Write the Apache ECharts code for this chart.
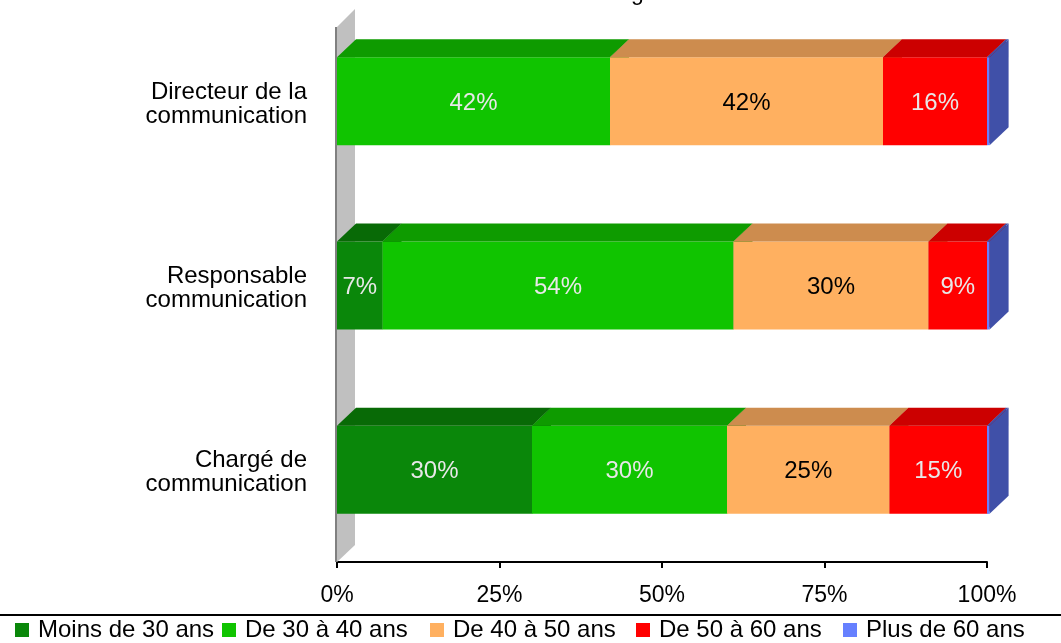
<!DOCTYPE html>
<html>
<head>
<meta charset="utf-8">
<script src="https://cdn.jsdelivr.net/npm/echarts@6/dist/echarts.min.js"></script>
<style>
  html, body { margin: 0; padding: 0; background: #ffffff; }
  #chart { width: 1061px; height: 643px; }
</style>
</head>
<body>
<div id="chart"></div>
<script>
// Age brackets per communication job title (share of respondents, %)
const categories = ['Directeur de la\ncommunication', 'Responsable\ncommunication', 'Chargé de\ncommunication'];
const seriesNames = ['Moins de 30 ans', 'De 30 à 40 ans', 'De 40 à 50 ans', 'De 50 à 60 ans', 'Plus de 60 ans'];
const moins30 = [0, 7, 30];
const de30a40 = [42, 54, 30];
const de40a50 = [42, 30, 25];
const de50a60 = [16, 9, 15];
const plus60 = [0.4, 0.4, 0.4];
const xTickStep = 25;

const FONT = '"Liberation Sans", Arial, sans-serif';
const DX = 19, DY = 18, BAR_H = 88;

// front / top / side faces for each bracket, plus the value-label colour
const palette = [
  { front: '#0a870a', top: '#086a06', side: '#076006', label: '#e8e8e8' },
  { front: '#10c400', top: '#0e9b00', side: '#0c8a00', label: '#e8e8e8' },
  { front: '#ffb060', top: '#cd8c4e', side: '#c08048', label: '#000000' },
  { front: '#ff0000', top: '#cc0000', side: '#b80000', label: '#e8e8e8' },
  { front: '#6680ff', top: '#4050a8', side: '#4050a8', label: null }
];

const values = [moins30, de30a40, de40a50, de50a60, plus60];

// stacked rows: [value, categoryIndex, stackStart]
const stacked = [];
const running = categories.map(() => 0);
values.forEach((arr) => {
  stacked.push(arr.map((v, ci) => {
    const row = [v, ci, running[ci]];
    running[ci] += v;
    return row;
  }));
});

function boxRenderer(si) {
  return function (params, api) {
    const v = api.value(0);
    if (!(v > 0)) return null;
    const cat = api.value(1);
    const start = api.value(2);
    const a = api.coord([start, cat]);
    const b = api.coord([start + v, cat]);
    const x0 = a[0], x1 = b[0];
    const yT = a[1] - BAR_H / 2, yB = a[1] + BAR_H / 2;
    const c = palette[si];
    const children = [
      { type: 'rect', shape: { x: x0, y: yT, width: x1 - x0, height: yB - yT }, style: { fill: c.front } },
      { type: 'polygon', shape: { points: [[x0, yT], [x1, yT], [x1 + DX, yT - DY], [x0 + DX, yT - DY]] }, style: { fill: c.top } },
      { type: 'polygon', shape: { points: [[x1, yT], [x1 + DX, yT - DY], [x1 + DX, yB - DY], [x1, yB]] }, style: { fill: c.side } }
    ];
    if (c.label) {
      children.push({
        type: 'text',
        style: {
          text: v + '%', x: (x0 + x1) / 2, y: (yT + yB) / 2 + 2,
          align: 'center', verticalAlign: 'middle',
          fontSize: 24, fontFamily: FONT, fill: c.label
        }
      });
    }
    return { type: 'group', children: children };
  };
}

// grey side wall of the 3D plot area
function wallRenderer(params, api) {
  const cs = params.coordSys;
  const x0 = cs.x, yTop = cs.y, yBot = cs.y + cs.height;
  return {
    type: 'group',
    children: [
      { type: 'polygon', shape: { points: [[x0, yTop + DY], [x0 + DX - 1, yTop], [x0 + DX - 1, yBot - DY + 1], [x0, yBot]] }, style: { fill: '#c0c0c0' } },
      { type: 'line', shape: { x1: x0 - 1, y1: yTop + DY, x2: x0 - 1, y2: yBot }, style: { stroke: '#808080', lineWidth: 2 } }
    ]
  };
}

const series = [{
  type: 'custom',
  name: 'wall',
  silent: true,
  renderItem: wallRenderer,
  data: [[0, 0, 0]],
  encode: { x: 2, y: 1 },
  z: 1
}];
seriesNames.forEach((name, si) => {
  series.push({
    type: 'custom',
    name: name,
    renderItem: boxRenderer(si),
    itemStyle: { color: palette[si].front },
    data: stacked[si],
    encode: { x: [2, 0], y: 1 },
    z: 2 + si
  });
});

// one legend block per bracket, evenly spaced along the bottom
const legendLefts = [15, 222, 430, 636, 843];
const legends = seriesNames.map((name, i) => ({
  data: [name],
  left: legendLefts[i], top: 618,
  itemWidth: 14, itemHeight: 14,
  icon: 'rect',
  selectedMode: false,
  padding: 0,
  textStyle: { fontSize: 24, fontFamily: FONT, color: '#000000', padding: [0, 0, 0, 4] }
}));

const labelLine = { fontSize: 24, lineHeight: 24, fontFamily: FONT, color: '#000000', align: 'right' };

const chart = echarts.init(document.getElementById('chart'), null, { renderer: 'canvas' });
chart.setOption({
  backgroundColor: '#ffffff',
  animation: false,
  grid: { left: 337, right: 74, top: 9, bottom: 81, containLabel: false },
  xAxis: {
    type: 'value',
    min: 0, max: 100, interval: xTickStep,
    axisLine: { show: true, lineStyle: { color: '#000000', width: 2 } },
    axisTick: { show: true, length: 6, lineStyle: { color: '#000000', width: 2 } },
    axisLabel: { formatter: '{value}%', fontSize: 23, fontFamily: FONT, color: '#000000', margin: 22 },
    splitLine: { show: false }
  },
  yAxis: {
    type: 'category',
    data: categories,
    inverse: true,
    axisLine: { show: false },
    axisTick: { show: false },
    axisLabel: {
      fontSize: 24, lineHeight: 24, fontFamily: FONT, color: '#000000', margin: 30, align: 'right',
      // a thin spacer line on top nudges the two-line label slightly down
      formatter: (v) => '{gap| }\n' + v.split('\n').map((s) => '{line|' + s + '}').join('\n'),
      rich: {
        gap: { fontSize: 2, lineHeight: 6 },
        line: Object.assign({}, labelLine)
      }
    },
    splitLine: { show: false }
  },
  legend: legends,
  graphic: [
    { type: 'line', shape: { x1: 0, y1: 615, x2: 1061, y2: 615 }, style: { stroke: '#000000', lineWidth: 2 }, silent: true },
    { type: 'text', left: 511, top: -18, style: { text: "Tranche d'âge", fontSize: 23, fontFamily: FONT, fill: '#000000' }, silent: true }
  ],
  series: series
});
</script>
</body>
</html>
